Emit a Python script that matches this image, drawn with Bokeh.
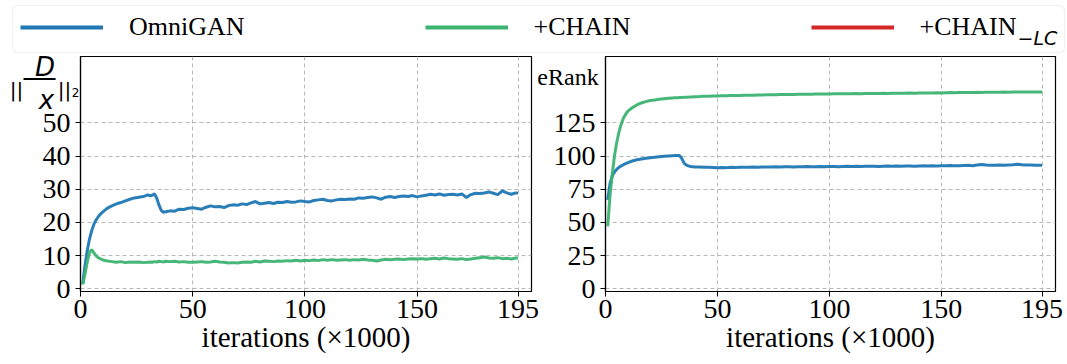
from bokeh.plotting import figure
from bokeh.models import Range1d, FixedTicker, Legend, LegendItem, Label, BoxAnnotation
from bokeh.layouts import column, row
from bokeh.embed import file_html
from bokeh.resources import INLINE

# ---------------- data ----------------
iterations = [1, 2, 3, 4, 5, 6, 7, 8, 9, 10,
              12, 14, 16, 18, 20, 22, 24, 26, 28, 30,
              31, 32, 33, 34, 35, 36, 37,
              38, 40, 42, 44, 46, 48, 50, 52, 54, 56, 58, 60, 62, 64, 66, 68, 70,
              72, 74, 76, 78, 80, 82, 84, 86, 88, 90, 92, 94, 96, 98, 100,
              102, 104, 106, 108, 110, 112, 114, 116, 118, 120, 122, 124, 126, 128, 130,
              132, 134, 136, 138, 140, 142, 144, 146, 148, 150, 152, 154, 156, 158, 160,
              162, 164, 166, 168, 170, 172, 174, 176, 178, 180, 182, 184, 186, 188, 190,
              192, 194, 195]

dnorm_omnigan = [1.5, 7.0, 11.5, 15.0, 17.5, 19.5, 20.8, 21.8, 22.6, 23.2,
                 24.3, 25.0, 25.6, 26.0, 26.5, 27.0, 27.4, 27.6, 27.8, 28.3,
                 28.0, 28.2, 28.6, 27.3, 25.2, 23.6, 23.1,
                 23.2, 23.5, 23.4, 24.0, 23.9, 24.3, 24.4, 24.2, 24.0, 24.6, 25.0, 24.7, 24.8, 24.5, 25.1, 25.3, 25.2,
                 25.6, 25.4, 25.9, 26.3, 25.6, 25.8, 26.0, 25.7, 26.1, 26.0, 26.3, 26.1, 26.2, 26.5, 26.3,
                 26.2, 26.6, 26.8, 27.0, 26.6, 26.5, 26.8, 27.0, 26.9, 27.1, 27.0, 27.4, 27.3, 27.5, 27.7,
                 27.4, 27.0, 27.6, 27.8, 27.5, 27.8, 28.0, 27.8, 28.1, 27.7, 28.0, 28.2, 28.5, 28.3, 28.6,
                 28.2, 28.4, 28.5, 28.3, 28.6, 27.5, 28.4, 28.8, 28.7, 28.9, 29.2, 28.8, 28.4, 29.5, 28.9,
                 28.5, 28.9, 28.8]

dnorm_chain = [1.3, 4.5, 8.0, 11.0, 11.8, 10.8, 9.9, 9.3, 9.0, 8.7,
               8.4, 8.2, 8.0, 8.2, 7.9, 8.1, 8.0, 8.1, 7.9, 8.0,
               8.1, 8.0, 8.2, 8.1, 8.3, 8.2, 8.1,
               8.3, 8.2, 8.3, 8.1, 8.2, 8.0, 8.0, 8.1, 8.2, 8.0, 8.1, 8.3, 8.1, 8.0, 7.8, 7.9, 7.8,
               8.0, 8.1, 8.0, 8.3, 8.1, 8.4, 8.3, 8.2, 8.4, 8.3, 8.5, 8.4, 8.6, 8.4, 8.6,
               8.5, 8.7, 8.5, 8.8, 8.6, 8.8, 8.6, 8.7, 8.8, 8.6, 8.8, 8.7, 8.9, 8.7, 8.6,
               8.4, 8.7, 8.9, 8.8, 8.9, 9.0, 8.8, 9.0, 9.1, 9.0, 9.1, 8.9, 9.1, 9.2, 9.0,
               9.3, 9.1, 9.0, 8.9, 9.1, 8.8, 9.0, 9.2, 9.4, 9.6, 9.3, 9.2, 9.4, 9.1, 9.2,
               9.0, 9.3, 9.3]

erank_omnigan = [67.0, 79.0, 85.0, 88.0, 90.0, 91.5, 92.6, 93.5, 94.3, 95.0,
                 96.3, 97.2, 97.8, 98.3, 98.8, 99.2, 99.5, 99.8, 100.1, 100.3,
                 100.4, 100.5, 100.4, 98.5, 95.0, 93.3, 92.6,
                 92.2, 91.8, 91.7, 91.6, 91.5, 91.4, 91.3, 91.4, 91.3, 91.5, 91.4, 91.5, 91.6, 91.5, 91.7, 91.6, 91.7,
                 91.8, 91.7, 91.9, 91.8, 91.9, 92.0, 91.8, 92.0, 91.9, 92.1, 92.0, 91.9, 92.1, 92.0, 92.1,
                 92.2, 92.0, 92.2, 92.3, 92.1, 92.3, 92.2, 92.4, 92.3, 92.4, 92.2, 92.4, 92.5, 92.3, 92.5,
                 92.4, 92.6, 92.5, 92.4, 92.6, 92.7, 92.5, 92.7, 92.6, 92.8, 92.7, 92.9, 92.8, 92.7, 92.9,
                 93.0, 92.8, 93.2, 93.6, 93.3, 93.1, 93.0, 93.2, 93.1, 93.3, 93.5, 93.8, 93.4, 93.2, 93.3,
                 93.1, 93.0, 93.0]

erank_chain = [47.0, 70.0, 86.0, 100.0, 110.0, 118.0, 124.0, 128.5, 131.5, 133.8,
               136.5, 138.5, 140.0, 141.0, 141.8, 142.3, 142.8, 143.2, 143.5, 143.8,
               143.9, 144.0, 144.1, 144.2, 144.3, 144.4, 144.4,
               144.5, 144.7, 144.8, 145.0, 145.1, 145.2, 145.3, 145.4, 145.4, 145.6, 145.6, 145.7, 145.8, 145.8, 145.9, 146.0, 146.0,
               146.1, 146.2, 146.2, 146.3, 146.3, 146.4, 146.4, 146.5, 146.5, 146.6, 146.6, 146.7, 146.7, 146.8, 146.8,
               146.9, 146.9, 147.0, 146.9, 147.0, 147.1, 147.0, 147.1, 147.2, 147.1, 147.2, 147.3, 147.2, 147.3, 147.4,
               147.3, 147.4, 147.5, 147.4, 147.5, 147.6, 147.5, 147.6, 147.7, 147.6, 147.7, 147.8, 147.7, 147.8, 147.9,
               147.8, 147.9, 148.0, 147.9, 148.0, 148.1, 148.0, 148.1, 148.2, 148.1, 148.2, 148.3, 148.2, 148.3, 148.3,
               148.2, 148.3, 148.3]

series_labels = ["OmniGAN", "+CHAIN", "+CHAIN"]
series_colors = ["#1f77b4", "#3cb371", "#d62728"]
x_ticks = [0, 50, 100, 150, 195]
dnorm_ticks = [0, 10, 20, 30, 40, 50]
erank_ticks = [0, 25, 50, 75, 100, 125]

for s in (dnorm_omnigan, dnorm_chain, erank_omnigan, erank_chain):
    assert len(s) == len(iterations), len(s)

SERIF = "Liberation Serif"
SANS = "DejaVu Sans"
TICK_SIZE = "28px"
TOP_H = 118       # height of the strip holding legend + y-labels
PLOT_TOP = 46     # page y where the plot figures start (they overlap the strip)


def make_panel(width, bl, br, y_lo, y_hi, yticks, series):
    p = figure(width=width, height=364 - PLOT_TOP, x_range=Range1d(0, 201), y_range=Range1d(y_lo, y_hi),
               output_backend="svg", toolbar_location=None,
               min_border_left=bl, min_border_right=br, min_border_top=10, min_border_bottom=73,
               outline_line_color="black", outline_line_width=1.2,
               background_fill_color="white", border_fill_alpha=0)
    for ys, col in series:
        p.line(iterations, ys, line_color=col, line_width=3, line_alpha=0.95)
    p.xaxis.ticker = FixedTicker(ticks=x_ticks)
    p.yaxis.ticker = FixedTicker(ticks=yticks)
    for ax in (p.xaxis, p.yaxis):
        ax.major_label_text_font = SERIF
        ax.major_label_text_font_size = TICK_SIZE
        ax.major_label_text_color = "black"
        ax.axis_line_color = "black"
        ax.axis_line_width = 1.2
        ax.major_tick_line_color = "black"
        ax.major_tick_out = 5
        ax.major_tick_in = 0
        ax.minor_tick_out = 0
        ax.minor_tick_in = 0
    p.xaxis.major_label_standoff = 3
    p.yaxis.major_label_standoff = 5
    p.xaxis.axis_label = "iterations (×1000)"
    p.xaxis.axis_label_text_font = SERIF
    p.xaxis.axis_label_text_font_size = "29px"
    p.xaxis.axis_label_text_font_style = "normal"
    p.xaxis.axis_label_text_color = "black"
    p.xaxis.axis_label_standoff = 0
    p.grid.grid_line_color = "#b8b8b8"
    p.grid.grid_line_dash = "4 3"
    p.grid.grid_line_width = 1
    return p


left = make_panel(545, 80, 14, -0.8, 70, dnorm_ticks,
                  [(dnorm_omnigan, series_colors[0]), (dnorm_chain, series_colors[1])])
right = make_panel(522, 60, 12, -2, 175, erank_ticks,
                   [(erank_omnigan, series_colors[0]), (erank_chain, series_colors[1])])

# ---------------- top strip: legend box + y labels ----------------
top = figure(width=1067, height=TOP_H, x_range=Range1d(0, 1), y_range=Range1d(0, 1),
             output_backend="svg", toolbar_location=None, x_axis_type=None, y_axis_type=None,
             min_border=0, min_border_left=0, min_border_right=0, min_border_top=0, min_border_bottom=0,
             outline_line_alpha=0, background_fill_alpha=0, border_fill_alpha=0)
top.grid.visible = False

box = BoxAnnotation(left=12, right=1064, top=TOP_H - 5, bottom=TOP_H - 52,
                    left_units="screen", right_units="screen", top_units="screen", bottom_units="screen",
                    fill_alpha=0, line_color="#cfcfcf", line_width=1.2, level="underlay")
try:
    box.border_radius = 5
except Exception:
    pass
top.add_layout(box)

items = []
for name, col in zip(series_labels, series_colors):
    r = top.line(x=[0], y=[float("nan")], line_color=col, line_width=4)
    items.append(LegendItem(label=name, renderers=[r]))
legend = Legend(items=items, orientation="horizontal", location=(20, TOP_H - 42), padding=0, margin=0,
                spacing=180, glyph_width=83, glyph_height=28, label_height=28, label_standoff=26,
                label_text_font=SERIF, label_text_font_size="26px", label_text_color="black",
                border_line_alpha=0, background_fill_alpha=0)
top.add_layout(legend)


def lab(text, x, y, size, font=SANS, style="italic", baseline="middle", align="center"):
    # x, y: page pixels (from the top-left corner of the picture)
    top.add_layout(Label(x=x, y=TOP_H - y, x_units="screen", y_units="screen", text=text,
                         text_font=font, text_font_size=size, text_font_style=style,
                         text_align=align, text_baseline=baseline, text_color="black"))


lab("−LC", 1017, 37, "19px", align="left")
# y label of the left panel: ||D/x||_2
lab("||", 16, 89.5, "20px")
lab("D", 44.5, 66, "26px")
lab("—", 39, 75.5, "32px", font="Liberation Sans", style="normal")
lab("x", 46, 99, "26px")
lab("||", 64, 89.5, "20px")
lab("2", 75, 92, "12px", style="normal")
# y label of the right panel
lab("eRank", 567.5, 76, "24px", font=SERIF, style="normal", baseline="alphabetic")

plots = row(left, right, margin=(PLOT_TOP - TOP_H, 0, 0, 0))
layout = column(top, plots)
open("out.html", "w").write(file_html(layout, INLINE))
